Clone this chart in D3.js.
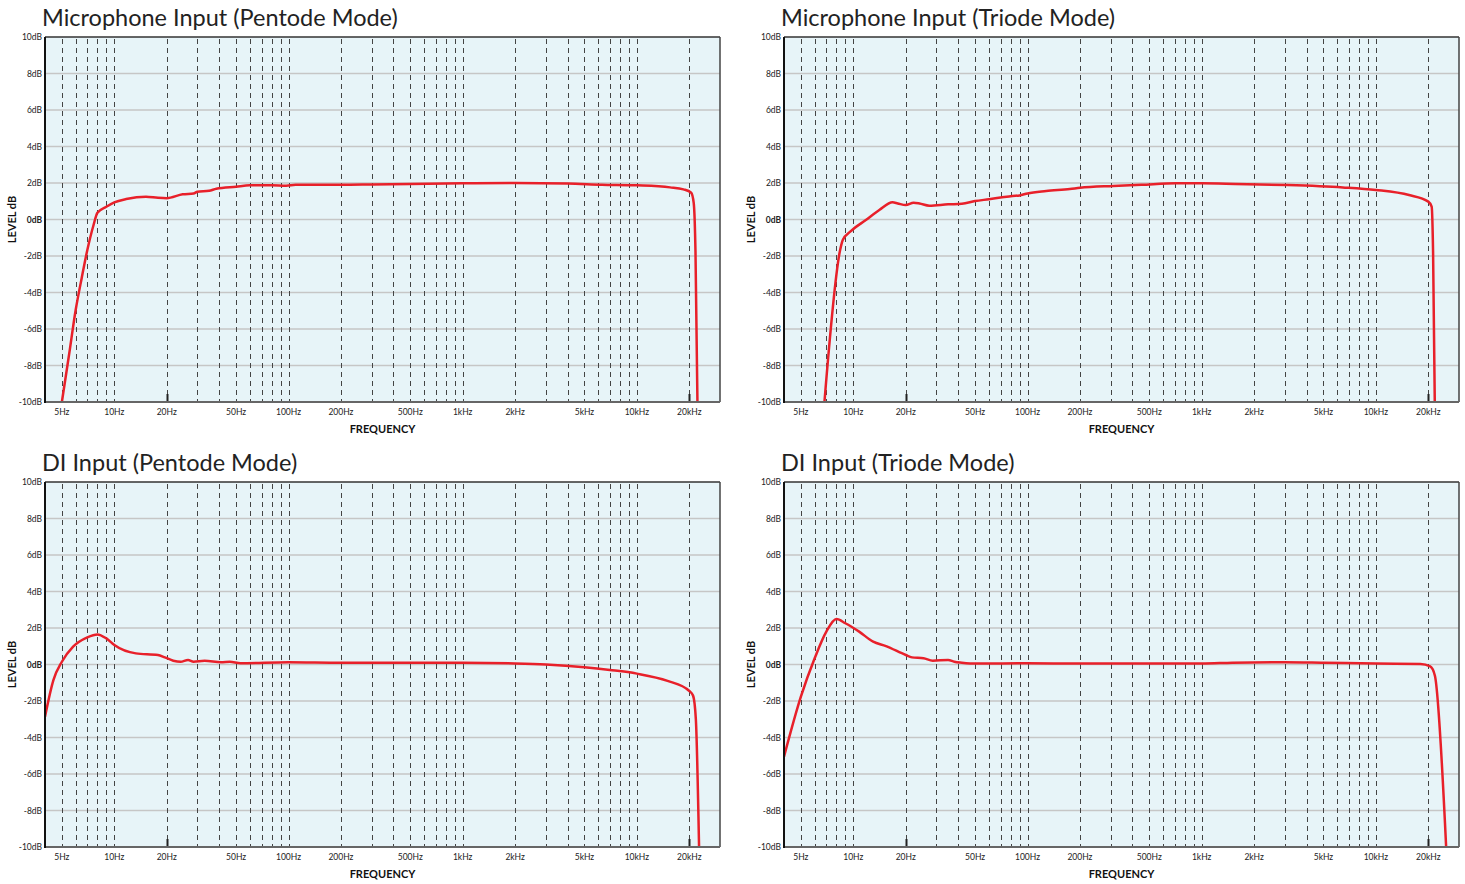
<!DOCTYPE html>
<html>
<head>
<meta charset="utf-8">
<script src="https://cdn.jsdelivr.net/npm/d3@7"></script>
<style>
  body { margin: 0; background: #fff; }
  svg { display: block; font-family: Lato, "DejaVu Sans", sans-serif; }
</style>
</head>
<body>
<div id="chart"></div>
<script>
var width = 1465,
  height = 884;

// frequency response data (Hz / dB)
var micPentodeFreq = [5, 5.5, 6, 6.5, 7, 7.6, 8, 9, 10, 11.7, 15.2, 17.8, 20, 24.7, 28.5, 30, 35, 38.5, 50, 60, 80, 97, 110, 200, 300, 500, 1000, 2000, 4000, 6300, 10000, 15500, 18500, 20500, 21200, 21700, 22300];
var micPentodeDb = [-10, -7.4, -4.96, -3.2, -1.67, -0.3, 0.37, 0.7, 0.94, 1.12, 1.25, 1.19, 1.17, 1.38, 1.42, 1.52, 1.57, 1.69, 1.8, 1.87, 1.88, 1.85, 1.9, 1.9, 1.92, 1.95, 1.98, 2.0, 1.97, 1.91, 1.87, 1.76, 1.65, 1.47, 0.9, -1.8, -10.5];

var micTriodeFreq = [6.8, 8.4, 8.7, 9.6, 11.8, 14.1, 16.8, 18, 20, 22.2, 24, 27.3, 35, 42, 50, 60, 70, 82, 90, 100, 128, 175, 200, 310, 450, 711, 1000, 1560, 3040, 6450, 10000, 15500, 20000, 20900, 21300, 21800];
var micTriodeDb = [-10.2, -1.67, -1.12, -0.67, -0.03, 0.52, 0.94, 0.88, 0.79, 0.92, 0.88, 0.76, 0.83, 0.86, 1.01, 1.11, 1.2, 1.29, 1.32, 1.43, 1.56, 1.67, 1.74, 1.84, 1.9, 1.98, 1.98, 1.95, 1.89, 1.76, 1.62, 1.34, 0.98, 0.7, -1.85, -10.3];

var diPentodeFreq = [4, 4.47, 5, 5.8, 7, 8, 9, 10, 13.3, 17.8, 19.5, 21.8, 24, 26.5, 28.5, 33, 41, 46, 53, 100, 200, 1000, 2000, 3000, 5000, 7000, 10000, 15000, 20000, 21000, 21800, 22800];
var diPentodeDb = [-2.86, -0.85, 0.15, 0.98, 1.49, 1.65, 1.43, 1.07, 0.61, 0.52, 0.39, 0.21, 0.15, 0.25, 0.15, 0.2, 0.12, 0.15, 0.07, 0.13, 0.1, 0.1, 0.06, 0.0, -0.15, -0.3, -0.5, -0.9, -1.45, -1.7, -3, -10.5];

var diTriodeFreq = [4, 5, 6, 7, 8, 9, 10.8, 13, 15.4, 20, 21.7, 25.3, 28.6, 35, 38, 42, 51, 100, 200, 1000, 1500, 3000, 5000, 10000, 18000, 20500, 21800, 25400];
var diTriodeDb = [-5.05, -1.76, 0.34, 1.8, 2.49, 2.26, 1.8, 1.25, 1.01, 0.52, 0.39, 0.34, 0.21, 0.25, 0.15, 0.1, 0.05, 0.07, 0.05, 0.05, 0.1, 0.13, 0.1, 0.05, 0.03, -0.1, -0.6, -10.3];

var titles = ["Microphone Input (Pentode Mode)", "Microphone Input (Triode Mode)", "DI Input (Pentode Mode)", "DI Input (Triode Mode)"];

var xLabelFreqs = [5, 10, 20, 50, 100, 200, 500, 1000, 2000, 5000, 10000, 20000];
var xLabels = ["5Hz", "10Hz", "20Hz", "50Hz", "100Hz", "200Hz", "500Hz", "1kHz", "2kHz", "5kHz", "10kHz", "20kHz"];
var yTicks = [10, 8, 6, 4, 2, 0, -2, -4, -6, -8, -10];
var yLabels = ["10dB", "8dB", "6dB", "4dB", "2dB", "0dB", "-2dB", "-4dB", "-6dB", "-8dB", "-10dB"];
var bandEdges = [20, 20000];

// vertical dashed grid: 5..9, 10..90, 100..900, ... 20000
var gridFreqs = [];
[1, 10, 100, 1000, 10000].forEach(function (dec) {
  for (var m = 1; m <= 9; m++) {
    var f = m * dec;
    if (f >= 5 && f <= 20000) gridFreqs.push(f);
  }
});

var series = [
  { freq: micPentodeFreq, db: micPentodeDb },
  { freq: micTriodeFreq, db: micTriodeDb },
  { freq: diPentodeFreq, db: diPentodeDb },
  { freq: diTriodeFreq, db: diTriodeDb }
];

var plotW = 675,
  plotH = 365;
var origins = [[45, 37], [784, 37], [45, 482], [784, 482]];

var svg = d3.select("#chart").append("svg")
  .attr("width", width)
  .attr("height", height);

var x = d3.scaleLog().domain([4, 30000]).range([0, plotW]);
var y = d3.scaleLinear().domain([-10, 10]).range([plotH, 0]);

var line = d3.line()
  .x(function (d) { return x(d[0]); })
  .y(function (d) { return y(d[1]); })
  .curve(d3.curveMonotoneX);

series.forEach(function (s, i) {
  var g = svg.append("g")
    .attr("transform", "translate(" + origins[i][0] + "," + origins[i][1] + ")");

  // title
  g.append("text")
    .attr("x", -3)
    .attr("y", -11)
    .style("font-size", "23.5px")
    .style("fill", "#222")
    .text(titles[i]);

  g.append("rect")
    .attr("width", plotW)
    .attr("height", plotH)
    .style("fill", "#e7f4f8");

  g.append("clipPath").attr("id", "clip" + i)
    .append("rect").attr("width", plotW).attr("height", plotH);

  // horizontal grid
  g.selectAll(".hgrid").data(yTicks.slice(1, -1)).enter().append("line")
    .attr("class", "hgrid")
    .attr("x1", 0).attr("x2", plotW)
    .attr("y1", function (d) { return y(d); })
    .attr("y2", function (d) { return y(d); })
    .style("stroke", "#c6c6c6")
    .style("stroke-width", 1.5);

  // vertical dashed grid
  g.selectAll(".vgrid").data(gridFreqs).enter().append("line")
    .attr("class", "vgrid")
    .attr("x1", function (d) { return Math.round(x(d)) + 0.5; })
    .attr("x2", function (d) { return Math.round(x(d)) + 0.5; })
    .attr("y1", 2).attr("y2", plotH)
    .style("stroke", "#444")
    .style("stroke-width", 1)
    .style("stroke-dasharray", "5,4");

  // 20Hz / 20kHz ticks
  g.selectAll(".band").data(bandEdges).enter().append("line")
    .attr("x1", function (d) { return Math.round(x(d)) + 0.5; })
    .attr("x2", function (d) { return Math.round(x(d)) + 0.5; })
    .attr("y1", plotH - 8).attr("y2", plotH)
    .style("stroke", "#222")
    .style("stroke-width", 2);

  // response curve
  var pts = s.freq.map(function (f, k) { return [f, s.db[k]]; });
  g.append("path")
    .datum(pts)
    .attr("clip-path", "url(#clip" + i + ")")
    .attr("d", line)
    .style("fill", "none")
    .style("stroke", "#e8202a")
    .style("stroke-width", 2.5)
    .style("stroke-linejoin", "round");

  // frame
  g.append("line").attr("x1", 0).attr("x2", plotW).attr("y1", 0).attr("y2", 0)
    .style("stroke", "#333").style("stroke-width", 1.5);
  g.append("line").attr("x1", plotW).attr("x2", plotW).attr("y1", 0).attr("y2", plotH)
    .style("stroke", "#444").style("stroke-width", 1.5);
  g.append("line").attr("x1", 0).attr("x2", plotW).attr("y1", plotH).attr("y2", plotH)
    .style("stroke", "#666").style("stroke-width", 2);
  g.append("line").attr("x1", 0).attr("x2", 0).attr("y1", 0).attr("y2", plotH + 1)
    .style("stroke", "#111").style("stroke-width", 2);

  // y tick labels
  g.selectAll(".ylab").data(yTicks).enter().append("text")
    .attr("x", -3)
    .attr("y", function (d) { return y(d) + 3; })
    .attr("text-anchor", "end")
    .style("font-size", "8.5px")
    .style("font-weight", function (d) { return d === 0 ? "bold" : "normal"; })
    .style("fill", "#222")
    .text(function (d, k) { return yLabels[k]; });

  // x tick labels
  g.selectAll(".xlab").data(xLabelFreqs).enter().append("text")
    .attr("x", function (d) { return x(d); })
    .attr("y", plotH + 13)
    .attr("text-anchor", "middle")
    .style("font-size", "8.5px")
    .style("fill", "#222")
    .text(function (d, k) { return xLabels[k]; });

  g.append("text")
    .attr("x", plotW / 2)
    .attr("y", plotH + 31)
    .attr("text-anchor", "middle")
    .style("font-size", "11px")
    .style("font-weight", "bold")
    .style("fill", "#111")
    .text("FREQUENCY");

  g.append("text")
    .attr("transform", "translate(-29," + y(0) + ")rotate(-90)")
    .attr("text-anchor", "middle")
    .style("font-size", "11px")
    .style("font-weight", "bold")
    .style("fill", "#111")
    .text("LEVEL dB");
});
</script>
</body>
</html>
